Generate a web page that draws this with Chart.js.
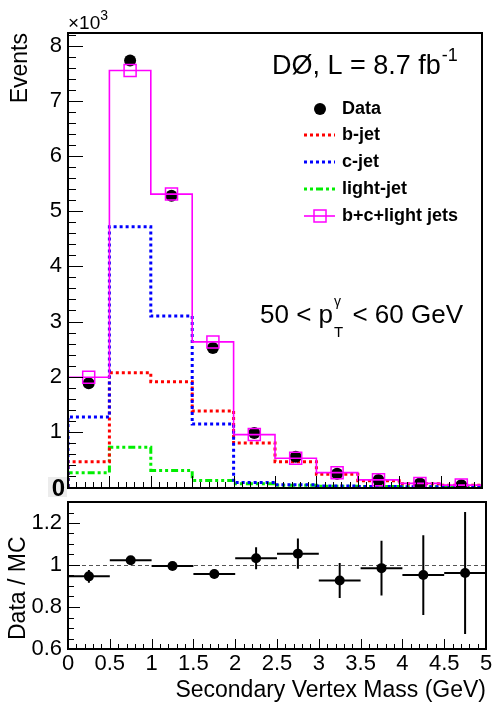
<!DOCTYPE html>
<html><head><meta charset="utf-8">
<script src="https://cdn.jsdelivr.net/npm/chart.js@4.4.1/dist/chart.umd.min.js"></script>
<style>
html,body{margin:0;padding:0;background:#fff;width:492px;height:702px;overflow:hidden}
canvas{position:absolute;left:0}
#top{top:0}
#bot{top:497px}
</style></head><body>
<canvas id="top" width="492" height="498"></canvas>
<canvas id="bot" width="492" height="205"></canvas>
<script>
// ---------------- data ----------------
const binEdges   = [0, 0.5, 1, 1.5, 2, 2.5, 3, 3.5, 4, 4.5, 5];
const binCenters = [0.25, 0.75, 1.25, 1.75, 2.25, 2.75, 3.25, 3.75, 4.25, 4.75];
// events, in units of 10^3
const dataEvents = [1.88, 7.73, 5.28, 2.52, 0.98, 0.55, 0.24, 0.128, 0.062, 0.034];
const bJet       = [0.46, 2.07, 1.91, 1.38, 0.80, 0.46, 0.23, 0.115, 0.058, 0.030];
const cJet       = [1.27, 4.72, 3.10, 1.14, 0.08, 0.04, 0.02, 0.010, 0.006, 0.003];
const lightJet   = [0.26, 0.72, 0.30, 0.12, 0.06, 0.03, 0.015, 0.008, 0.004, 0.002];
const mcTotal    = [1.99, 7.55, 5.31, 2.63, 0.95, 0.52, 0.26, 0.13, 0.065, 0.035];
// ratio panel
const ratio      = [0.946, 1.023, 0.995, 0.957, 1.032, 1.054, 0.926, 0.985, 0.952, 0.962];
const ratioErr   = [0.030, 0.012, 0.012, 0.020, 0.052, 0.072, 0.083, 0.130, 0.190, 0.290];
// tick labels
const topYTicks   = [0, 1, 2, 3, 4, 5, 6, 7, 8];
const ratioYTicks = [0.6, 0.8, 1.0, 1.2];
const xTicks      = [0, 0.5, 1, 1.5, 2, 2.5, 3, 3.5, 4, 4.5, 5];
const seriesLabels = ['Data', 'b-jet', 'c-jet', 'light-jet', 'b+c+light jets'];

const FONT = "'Liberation Sans', Arial, Helvetica, sans-serif";
Chart.defaults.font.family = FONT;
Chart.defaults.color = '#000';

function histPts(vals) {
  const pts = [{x: binEdges[0], y: 0}];
  vals.forEach((v, i) => pts.push({x: binEdges[i], y: v}));
  pts.push({x: binEdges[binEdges.length - 1], y: vals[vals.length - 1]});
  pts.push({x: binEdges[binEdges.length - 1], y: 0});
  return pts;
}
const centerPts = vals => binCenters.map((x, i) => ({x, y: vals[i]}));

function histDs(label, vals, color, dash, width, order) {
  return {label, data: histPts(vals), borderColor: color, borderWidth: width,
    borderDash: dash, stepped: 'before', pointRadius: 0, fill: false, order,
    borderCapStyle: 'butt', tension: 0};
}

// ---------------- helpers for text ----------------
function txt(ctx, s, x, y, size, opts = {}) {
  ctx.font = (opts.bold ? 'bold ' : '') + size + 'px ' + FONT;
  ctx.textAlign = opts.align || 'left';
  ctx.textBaseline = opts.base || 'alphabetic';
  ctx.fillStyle = opts.color || '#000';
  ctx.fillText(s, x, y);
  return ctx.measureText(s).width;
}

// ---------------- top panel plugin ----------------
const topPlugin = {
  id: 'topDeco',
  afterDraw(chart) {
    const {ctx, chartArea: a, scales: {x, y}} = chart;
    ctx.save();
    // inward ticks
    ctx.strokeStyle = '#000'; ctx.lineWidth = 1; ctx.setLineDash([]);
    ctx.beginPath();
    for (let k = 0; k <= 41; k++) {
      const v = k * 0.2; if (v > y.max) break;
      const py = Math.round(y.getPixelForValue(v)) + 0.5;
      const len = (k % 5 === 0) ? 15 : 8;
      ctx.moveTo(a.left, py); ctx.lineTo(a.left + len, py);
    }
    for (let k = 0; k <= 50; k++) {
      const px = Math.round(x.getPixelForValue(k * 0.1)) + 0.5;
      const len = (k % 5 === 0) ? 12 : 6;
      ctx.moveTo(px, a.bottom); ctx.lineTo(px, a.bottom - len);
    }
    ctx.stroke();
    // frame
    ctx.lineWidth = 2;
    ctx.strokeRect(a.left, a.top, a.right - a.left, a.bottom - a.top);

    // "0" label with grey box (overlapping pads)
    ctx.fillStyle = '#ececec';
    ctx.fillRect(48, 477, a.left - 49, 20);
    txt(ctx, String(topYTicks[0]), 65, 496, 24, {bold: true, align: 'right'});

    // x10^3
    const w = txt(ctx, '\u00d710', 68, 29, 19);
    txt(ctx, '3', 68 + w, 20, 14);

    // Events title
    ctx.save();
    ctx.translate(21, 33); ctx.rotate(-Math.PI / 2);
    txt(ctx, 'Events', 0, 0, 23, {align: 'right', base: 'middle'});
    ctx.restore();

    // DØ, L = 8.7 fb^-1
    const w2 = txt(ctx, 'D\u00d8, L = 8.7 fb', 272, 74, 27);
    txt(ctx, '-1', 272 + w2 + 1, 61, 18);

    // 50 < pT^gamma < 60 GeV
    const w3 = txt(ctx, '50 < p', 260, 323, 26);
    const xs = 260 + w3 + 1;
    const wt = txt(ctx, 'T', xs, 337, 15);
    txt(ctx, '\u03b3', xs, 306, 14);
    txt(ctx, ' < 60 GeV', xs + wt + 2, 323, 26);

    // legend
    const ds = chart.data.datasets;
    const rows = [109, 135, 162, 189, 216];
    const lx0 = 304, lx1 = 335, tx = 342;
    ctx.fillStyle = '#000';
    ctx.beginPath(); ctx.arc(320, rows[0], 6, 0, Math.PI * 2); ctx.fill();
    for (let i = 1; i <= 4; i++) {
      const d = ds[i];
      ctx.strokeStyle = d.borderColor; ctx.lineWidth = d.borderWidth;
      ctx.setLineDash(d.borderDash || []);
      ctx.beginPath(); ctx.moveTo(lx0, rows[i]); ctx.lineTo(lx1, rows[i]); ctx.stroke();
    }
    ctx.setLineDash([]);
    ctx.strokeStyle = '#ff00ff'; ctx.lineWidth = 1.5;
    ctx.strokeRect(314, rows[4] - 6, 12, 12);
    seriesLabels.forEach((s, i) => txt(ctx, s, tx, rows[i], 18, {bold: true, base: 'middle'}));
    ctx.restore();
  }
};

// ---------------- bottom panel plugin ----------------
const botPlugin = {
  id: 'botDeco',
  beforeDatasetsDraw(chart) {
    const {ctx, chartArea: a, scales: {x, y}} = chart;
    ctx.save();
    ctx.strokeStyle = '#555'; ctx.lineWidth = 1; ctx.setLineDash([4, 3]);
    const p1 = Math.round(y.getPixelForValue(1)) + 0.5;
    ctx.beginPath(); ctx.moveTo(a.left, p1); ctx.lineTo(a.right, p1); ctx.stroke();
    ctx.setLineDash([]);
    ctx.beginPath(); ctx.rect(a.left, a.top, a.right - a.left, a.bottom - a.top); ctx.clip();
    ctx.strokeStyle = '#000'; ctx.lineWidth = 2;
    ctx.beginPath();
    ratio.forEach((r, i) => {
      const py = y.getPixelForValue(r);
      ctx.moveTo(x.getPixelForValue(binEdges[i]), py);
      ctx.lineTo(x.getPixelForValue(binEdges[i + 1]), py);
      const px = x.getPixelForValue(binCenters[i]);
      ctx.moveTo(px, y.getPixelForValue(r - ratioErr[i]));
      ctx.lineTo(px, y.getPixelForValue(r + ratioErr[i]));
    });
    ctx.stroke();
    ctx.restore();
  },
  afterDraw(chart) {
    const {ctx, chartArea: a, scales: {x, y}} = chart;
    ctx.save();
    ctx.strokeStyle = '#000'; ctx.lineWidth = 1;
    ctx.beginPath();
    for (let k = 12; k <= 26; k++) {
      const py = Math.round(y.getPixelForValue(k * 0.05)) + 0.5;
      const len = (k % 4 === 0) ? 12 : 6;
      ctx.moveTo(a.left, py); ctx.lineTo(a.left + len, py);
    }
    for (let k = 0; k <= 50; k++) {
      const px = Math.round(x.getPixelForValue(k * 0.1)) + 0.5;
      const len = (k % 5 === 0) ? 10 : 5;
      ctx.moveTo(px, a.bottom); ctx.lineTo(px, a.bottom - len);
    }
    ctx.stroke();
    ctx.lineWidth = 2;
    ctx.strokeRect(a.left, a.top, a.right - a.left, a.bottom - a.top);

    txt(ctx, 'Secondary Vertex Mass (GeV)', 486, 200, 23, {align: 'right'});
    ctx.save();
    ctx.translate(19, 143); ctx.rotate(-Math.PI / 2);
    txt(ctx, 'Data / MC', 0, 0, 23, {align: 'left', base: 'middle'});
    ctx.restore();
    ctx.restore();
  }
};

// ---------------- top chart ----------------
new Chart(document.getElementById('top'), {
  type: 'line',
  data: {
    datasets: [
      {label: seriesLabels[0], data: centerPts(dataEvents), showLine: false,
       pointStyle: 'circle', pointRadius: 6, pointBackgroundColor: '#000',
       pointBorderColor: '#000', pointBorderWidth: 0, order: 1},
      histDs(seriesLabels[1], bJet, '#ff0000', [3, 3], 3, 3),
      histDs(seriesLabels[2], cJet, '#0000ff', [3, 3], 3, 2),
      histDs(seriesLabels[3], lightJet, '#00ee00', [3, 3, 3, 3, 7, 3], 3, 4),
      histDs(seriesLabels[4], mcTotal, '#ff00ff', [], 1.6, 0),
      {label: 'MC markers', data: centerPts(mcTotal), showLine: false,
       pointStyle: 'rect', pointRadius: 8.5, pointBackgroundColor: 'rgba(0,0,0,0)',
       pointBorderColor: '#ff00ff', pointBorderWidth: 1.5, order: 0}
    ]
  },
  options: {
    responsive: false, animation: false, events: [],
    layout: {padding: {top: 33, right: 6, bottom: 0, left: 0}},
    plugins: {legend: {display: false}, tooltip: {enabled: false}},
    scales: {
      x: {type: 'linear', min: 0, max: 5, display: false},
      y: {type: 'linear', min: -0.018, max: 8.23,
          afterBuildTicks(s) { s.ticks = topYTicks.map(v => ({value: v})); },
          afterFit(s) { s.width = 68; s.paddingTop = 0; s.paddingBottom = 0; },
          ticks: {callback: v => (v === 0 ? '' : String(v)), font: {size: 22}, color: '#000', padding: 6},
          grid: {display: false, drawTicks: false}, border: {display: false}}
    }
  },
  plugins: [topPlugin]
});

// ---------------- ratio chart ----------------
new Chart(document.getElementById('bot'), {
  type: 'line',
  data: {
    datasets: [
      {label: 'Data / MC', data: centerPts(ratio), showLine: false,
       pointStyle: 'circle', pointRadius: 5, pointBackgroundColor: '#000',
       pointBorderColor: '#000', pointBorderWidth: 0}
    ]
  },
  options: {
    responsive: false, animation: false, events: [],
    layout: {padding: {top: 1, right: 6, bottom: 0, left: 0}},
    plugins: {legend: {display: false}, tooltip: {enabled: false}},
    scales: {
      x: {type: 'linear', min: 0, max: 5,
          afterBuildTicks(s) { s.ticks = xTicks.map(v => ({value: v})); },
          afterFit(s) { s.height = 53; s.paddingLeft = 0; s.paddingRight = 0; },
          ticks: {callback: v => String(v), font: {size: 22}, color: '#000', padding: 2,
                  maxRotation: 0, minRotation: 0, autoSkip: false},
          grid: {display: false, drawTicks: false}, border: {display: false}},
      y: {type: 'linear', min: 0.6, max: 1.3,
          afterBuildTicks(s) { s.ticks = ratioYTicks.map(v => ({value: v})); },
          afterFit(s) { s.width = 68; s.paddingTop = 0; s.paddingBottom = 0; },
          ticks: {callback: v => String(Math.round(v * 10) / 10), font: {size: 22}, color: '#000', padding: 6},
          grid: {display: false, drawTicks: false}, border: {display: false}}
    }
  },
  plugins: [botPlugin]
});
</script>
</body></html>
